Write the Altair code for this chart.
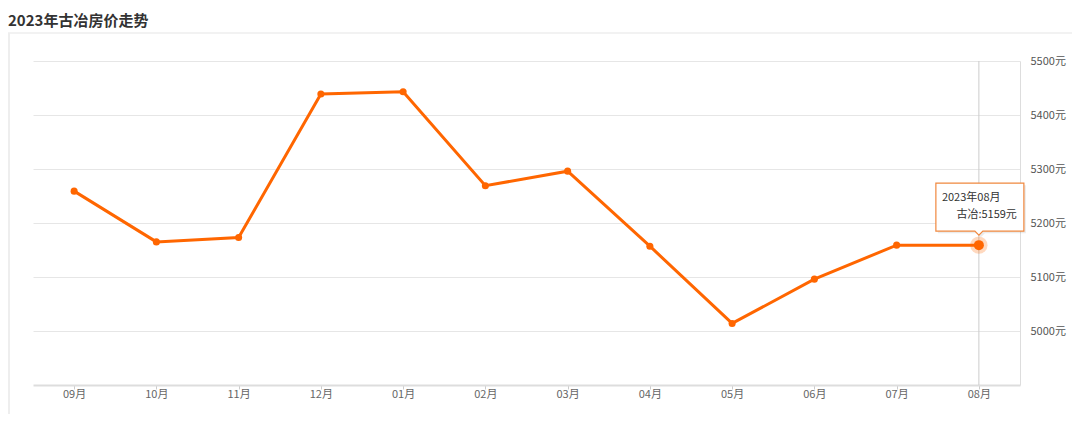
import altair as alt
import pandas as pd

months = ["09月", "10月", "11月", "12月", "01月", "02月", "03月", "04月", "05月", "06月", "07月", "08月"]
prices = [5259, 5165, 5173, 5439, 5443, 5269, 5296, 5157, 5014, 5096, 5159, 5159]
y_ticks = [5000, 5100, 5200, 5300, 5400, 5500]
title_text = "2023年古冶房价走势"
tip_title = "2023年08月"
tip_value = "古冶:5159元"

FONT = "Noto Sans CJK SC"
ORANGE = "#ff6600"

df = pd.DataFrame({"month": months, "price": prices})
last = df.iloc[[-1]].copy()
last["t1"] = tip_title
last["t2"] = tip_value

x_enc = alt.X("month:N", sort=months,
              scale=alt.Scale(type="point", padding=0.5),
              axis=alt.Axis(title=None, labelAngle=0, labelAlign="center", labelFont=FONT,
                            labelFontSize=11, labelColor="#666", domainColor="#dddddd",
                            domainWidth=2, tickColor="#cccccc", tickSize=4, labelPadding=5,
                            grid=False))
y_enc = alt.Y("price:Q", scale=alt.Scale(domain=[4900, 5500], nice=False, zero=False),
              axis=alt.Axis(title=None, orient="right", values=y_ticks,
                            labelExpr="datum.value + '元'", labelFont=FONT, labelFontSize=11,
                            labelColor="#555", ticks=False, domainColor="#dddddd",
                            labelPadding=10, gridColor="#e6e6e6", grid=True))

base = alt.Chart(df)

line = base.mark_line(color=ORANGE, strokeWidth=3).encode(x=x_enc, y=y_enc)
pts = base.mark_circle(color=ORANGE, size=50, opacity=1).encode(x=x_enc, y=y_enc)

lastc = alt.Chart(last)
crosshair = lastc.mark_rule(color="#cccccc", strokeWidth=1).encode(
    x=alt.X("month:N", sort=months, scale=alt.Scale(type="point", padding=0.5)),
    y=alt.value(0), y2=alt.value(324))
halo = lastc.mark_circle(color=ORANGE, size=300, opacity=0.25).encode(x=x_enc, y=y_enc)
bigpt = lastc.mark_circle(color=ORANGE, size=100, opacity=1).encode(x=x_enc, y=y_enc)

box_path = "M-43,-62 H45 V-14 H4 L0,-10 L-4,-14 H-43 Z"
shadow = lastc.mark_point(shape=box_path, size=4, filled=True, fill="#000000", opacity=0.08,
                          strokeWidth=0, xOffset=2, yOffset=2).encode(x=x_enc, y=y_enc)
box = lastc.mark_point(shape=box_path, size=4, filled=True, fill="#ffffff", stroke="#f0883e",
                       strokeWidth=1.2, opacity=1, strokeOpacity=1).encode(x=x_enc, y=y_enc)
t1 = lastc.mark_text(align="left", dx=-37, dy=-47, font=FONT, fontSize=11, color="#333").encode(
    x=x_enc, y=y_enc, text="t1:N")
t2 = lastc.mark_text(align="right", dx=38, dy=-30, font=FONT, fontSize=11, color="#333").encode(
    x=x_enc, y=y_enc, text="t2:N")

title = alt.Chart(pd.DataFrame({"t": [title_text]})).mark_text(
    align="left", baseline="middle", font=FONT, fontSize=15, fontWeight="bold", color="#333"
).encode(x=alt.value(-25), y=alt.value(-40), text="t:N")

card_top = alt.Chart(pd.DataFrame({"a": [0]})).mark_rule(color="#eeeeee", strokeWidth=1.5).encode(
    x=alt.value(-25), x2=alt.value(1040), y=alt.value(-28))
card_left = alt.Chart(pd.DataFrame({"a": [0]})).mark_rule(color="#eeeeee", strokeWidth=2).encode(
    x=alt.value(-24), y=alt.value(-28), y2=alt.value(400))

chart = alt.layer(card_top, card_left, title, crosshair, line, pts, halo, bigpt,
                  shadow, box, t1, t2).properties(
    width=987, height=324,
    autosize=alt.AutoSizeParams(type="none"),
    padding={"left": 25, "top": 53, "right": 52, "bottom": 29},
).configure_view(stroke=None)

chart.save("out.html", embed_options={"renderer": "svg", "actions": False})
